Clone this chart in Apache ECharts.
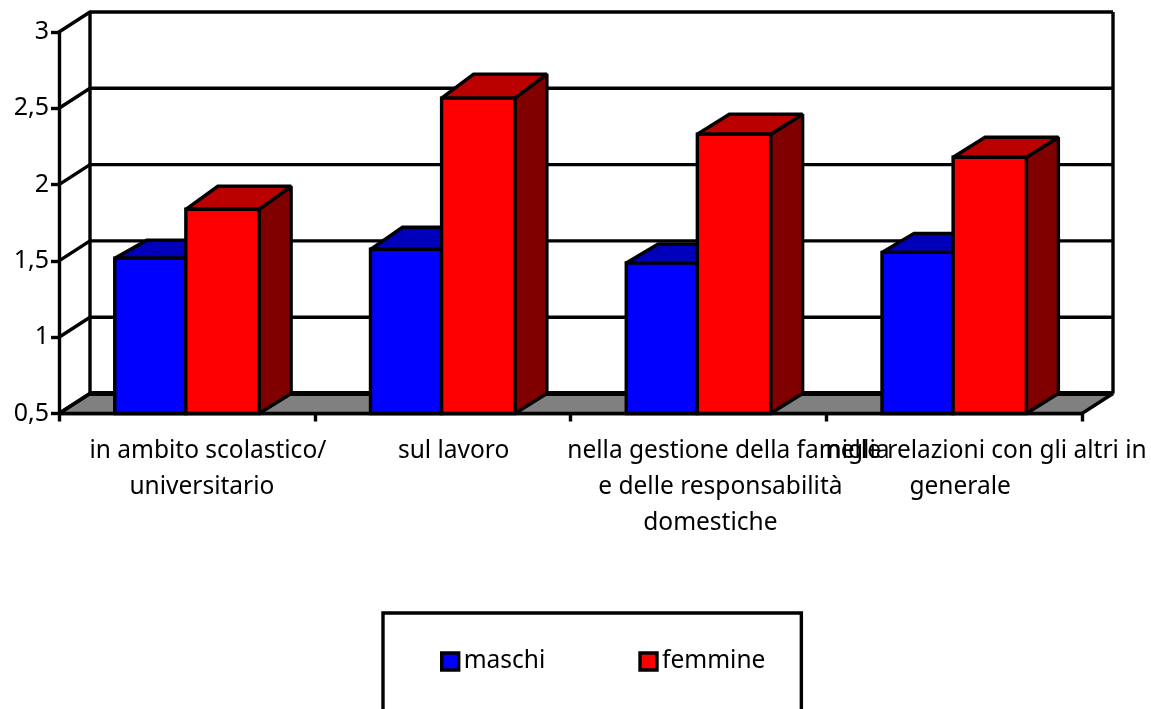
<!DOCTYPE html>
<html>
<head>
<meta charset="utf-8">
<style>html,body{margin:0;padding:0;background:#fff;overflow:hidden}#c{width:1151px;height:709px}</style>
<script src="https://cdn.jsdelivr.net/npm/echarts@6/dist/echarts.min.js"></script>
</head>
<body>
<div id="c"></div>
<script>
const categories = [
  "in ambito scolastico/\nuniversitario",
  "sul lavoro",
  "nella gestione della famiglia\ne delle responsabilità\ndomestiche",
  "nelle relazioni con gli altri in\ngenerale"
];
const maschi = [1.517, 1.576, 1.486, 1.556];
const femmine = [1.838, 2.567, 2.33, 2.179];
const yTicks = [0.5, 1, 1.5, 2, 2.5, 3];

const FONT = '"Noto Sans"';
const WALL_DX = 31, WALL_DY = -20, LW = 3.4;
const lineShifts = [[21, 15], [11], [30, 22, 12], [32, 6]];
const riseM = [18, 22, 19, 19], riseF = [23, 24, 20, 20];

const rich = {};
lineShifts.flat().forEach(s => {
  rich['s' + s] = {padding: [0, 0, 0, 2 * s], fontFamily: FONT, fontSize: 24.5, lineHeight: 36, color: '#000'};
});

const stroke = {stroke: '#000', lineWidth: LW, lineJoin: 'miter', miterLimit: 2};
function poly(points, fill) {
  return {type: 'polygon', shape: {points}, style: Object.assign({fill}, stroke)};
}
function barSeries(name, values, rise, from, to, front, top, side) {
  return {
    name, type: 'custom', z: 3, clip: false,
    data: values.map((v, i) => [i, v]),
    encode: {x: 0, y: 1},
    itemStyle: {color: front},
    renderItem(params, api) {
      const i = api.value(0), band = api.size([1, 0])[0];
      const t = api.coord([i, api.value(1)]), b = api.coord([i, yTicks[0]]);
      const x0 = t[0] + from * band, x1 = t[0] + to * band;
      const dy = -rise[i], dx = 32, dyB = -20;
      return {type: 'group', children: [
        poly([[x1, t[1]], [x1 + dx, t[1] + dy], [x1 + dx, b[1] + dyB], [x1, b[1]]], side),
        poly([[x0, t[1]], [x0 + dx, t[1] + dy], [x1 + dx, t[1] + dy], [x1, t[1]]], top),
        poly([[x0, t[1]], [x1, t[1]], [x1, b[1]], [x0, b[1]]], front)
      ]};
    }
  };
}

const chart = echarts.init(document.getElementById('c'), null, {renderer: 'canvas'});
chart.setOption({
  animation: false,
  backgroundColor: '#fff',
  grid: {left: 59, right: 69, top: 32, bottom: 295.5, containLabel: false},
  xAxis: {
    type: 'category', data: categories,
    axisLine: {lineStyle: {color: '#000', width: LW}},
    axisTick: {show: true, length: 8, lineStyle: {color: '#000', width: LW}},
    splitLine: {show: false},
    axisLabel: {
      interval: 0, margin: 19.5, hideOverlap: false, rich,
      formatter(value, idx) {
        return value.split('\n').map((l, k) => `{s${lineShifts[idx][k]}|${l}}`).join('\n');
      }
    }
  },
  yAxis: {
    type: 'value', min: 0.5, max: 3, interval: 0.5,
    axisLine: {show: true, lineStyle: {color: '#000', width: LW}},
    axisTick: {show: true, length: 8, lineStyle: {color: '#000', width: LW}},
    splitLine: {show: false},
    axisLabel: {
      color: '#000', fontFamily: FONT, fontSize: 25, margin: 10, padding: [4, 0, 0, 0],
      formatter: v => String(v).replace('.', ',')
    }
  },
  legend: {
    left: 383, top: 613, orient: 'horizontal',
    data: [
      {name: 'maschi', icon: 'rect', itemStyle: {color: '#0000ff', borderColor: '#000', borderWidth: 3.4}},
      {name: 'femmine', icon: 'rect', itemStyle: {color: '#ff0000', borderColor: '#000', borderWidth: 3.4}}
    ],
    itemWidth: 17, itemHeight: 17, itemGap: 93,
    padding: [36, 36, 100, 57],
    borderColor: '#000', borderWidth: 3.4, backgroundColor: '#fff',
    textStyle: {color: '#000', fontFamily: FONT, fontSize: 24.5}
  },
  series: [
    {
      type: 'custom', name: 'sfondo', z: 1, clip: false, silent: true,
      data: yTicks.map(t => [0, t]),
      encode: {x: 0, y: 1},
      renderItem(params, api) {
        const cs = params.coordSys, x0 = cs.x, x1 = cs.x + cs.width;
        const v = api.value(1), y = api.coord([0, v])[1];
        const bx0 = x0 + WALL_DX, bx1 = x1 + WALL_DX, by = y + WALL_DY;
        const line = (pts, w) => ({type: 'polyline', shape: {points: pts}, style: Object.assign({fill: null}, stroke, w ? {lineWidth: w} : {})});
        const kids = [];
        if (v === yTicks[0]) {
          kids.push(poly([[x0, y], [x1, y], [bx1, by], [bx0, by]], '#808080'));
          const topY = api.coord([0, yTicks[yTicks.length - 1]])[1] + WALL_DY;
          kids.push(line([[bx0, by], [bx0, topY]]));
          kids.push(line([[bx1, by], [bx1, topY]]));
          kids.push(line([[bx0, by], [bx1, by]], 5));
        }
        kids.push(line([[x0, y], [bx0, by], [bx1, by]]));
        return {type: 'group', children: kids};
      }
    },
    barSeries('maschi', maschi, riseM, -0.282, -0.004, '#0000ff', '#0000bb', '#000080'),
    barSeries('femmine', femmine, riseF, -0.004, 0.2825, '#ff0000', '#bb0000', '#800000')
  ]
});
</script>
</body>
</html>
